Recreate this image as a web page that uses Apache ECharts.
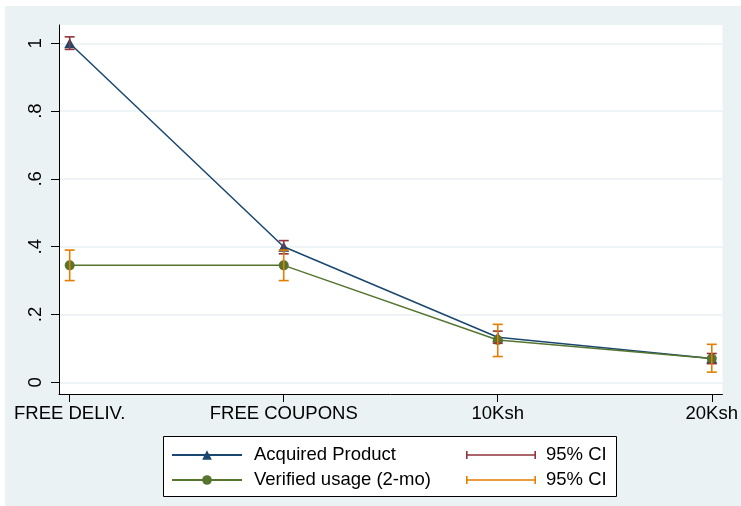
<!DOCTYPE html>
<html>
<head>
<meta charset="utf-8">
<script src="https://cdn.jsdelivr.net/npm/echarts@6/dist/echarts.min.js"></script>
<style>
  html, body { margin: 0; padding: 0; background: #ffffff; }
  #chart { width: 741px; height: 506px; }
</style>
</head>
<body>
<div id="chart"></div>
<script>
// Incentive arms along the horizontal axis
const categories = ['FREE DELIV.', 'FREE COUPONS', '10Ksh', '20Ksh'];

// Share who acquired the product, with 95% confidence bounds
const acquired = [1.0, 0.40, 0.133, 0.07];
const acquiredLow = [0.982, 0.379, 0.115, 0.055];
const acquiredHigh = [1.019, 0.418, 0.151, 0.085];

// Share with verified usage after two months, with 95% confidence bounds
const verified = [0.345, 0.345, 0.125, 0.07];
const verifiedLow = [0.30, 0.30, 0.076, 0.03];
const verifiedHigh = [0.39, 0.39, 0.171, 0.112];

// Vertical axis ticks and their printed labels
const yTicks = [0, 0.2, 0.4, 0.6, 0.8, 1];
const yTickLabels = ['0', '.2', '.4', '.6', '.8', '1'];

const seriesNames = ['Acquired Product', 'Verified usage (2-mo)'];
const ciLabel = '95% CI';

const NAVY = '#1a476f';
const GREEN = '#55752f';
const MAROON = '#90353b';
const ORANGE = '#e37e00';
const BG = '#eaf2f3';
const FONT = 'Liberation Sans, Arial, sans-serif';

const xIdx = categories.map((_, i) => i);
const pairs = (vals) => vals.map((v, i) => [xIdx[i], v]);
const ciData = (lo, hi) => lo.map((l, i) => [xIdx[i], l, hi[i]]);

function capRender(color) {
  return function (params, api) {
    const x = api.value(0);
    const top = api.coord([x, api.value(2)]);
    const bot = api.coord([x, api.value(1)]);
    const half = 5;
    const style = { stroke: color, lineWidth: 1.6, fill: 'none' };
    return {
      type: 'group',
      children: [
        { type: 'line', shape: { x1: top[0], y1: top[1], x2: bot[0], y2: bot[1] }, style },
        { type: 'line', shape: { x1: top[0] - half, y1: top[1], x2: top[0] + half, y2: top[1] }, style },
        { type: 'line', shape: { x1: bot[0] - half, y1: bot[1], x2: bot[0] + half, y2: bot[1] }, style }
      ]
    };
  };
}

// Legend glyph for the confidence-interval entries: a bar with end caps
const capIcon = 'path://M0,0 L1.6,0 L1.6,8 L0,8 Z M0,3.2 L70,3.2 L70,4.8 L0,4.8 Z M68.4,0 L70,0 L70,8 L68.4,8 Z';

const chart = echarts.init(document.getElementById('chart'), null, { renderer: 'canvas' });

chart.setOption({
  backgroundColor: '#ffffff',
  animation: false,
  textStyle: { fontFamily: FONT },
  graphic: [
    { type: 'rect', z: -10, silent: true,
      shape: { x: 5, y: 6, width: 736, height: 500 },
      style: { fill: BG } },
    { type: 'rect', z: 5, silent: true,
      shape: { x: 163.5, y: 436.5, width: 453, height: 60 },
      style: { fill: '#ffffff', stroke: '#000000', lineWidth: 1 } }
  ],
  grid: {
    left: 59, top: 25, width: 666, height: 369,
    show: true, backgroundColor: '#ffffff', borderWidth: 0
  },
  xAxis: {
    type: 'value', min: -0.05, max: 3.05,
    axisLine: { show: true, onZero: false, lineStyle: { color: '#000000', width: 1 } },
    axisTick: { show: true, customValues: xIdx, length: 8, lineStyle: { color: '#000000' } },
    axisLabel: {
      customValues: xIdx, margin: 10, fontSize: 18.5, color: '#000000', fontFamily: FONT,
      formatter: (v) => categories[Math.round(v)]
    },
    splitLine: { show: false }
  },
  yAxis: {
    type: 'value', min: -0.0345, max: 1.054,
    axisLine: { show: true, onZero: false, lineStyle: { color: '#000000', width: 1 } },
    axisTick: { show: true, customValues: yTicks, length: 8, lineStyle: { color: '#000000' } },
    axisLabel: {
      customValues: yTicks, rotate: 90, margin: 14, fontSize: 18.5, color: '#000000', fontFamily: FONT,
      formatter: (v) => yTickLabels[yTicks.findIndex(t => Math.abs(t - v) < 1e-9)]
    },
    splitLine: { show: true, lineStyle: { color: BG, width: 1.5 } }
  },
  legend: [
    {
      orient: 'vertical', left: 171, top: 445, padding: 0, itemGap: 5,
      itemWidth: 70, itemHeight: 12, z: 10,
      selectedMode: false,
      data: seriesNames,
      textStyle: { fontSize: 18.5, color: '#000000', fontFamily: FONT, lineHeight: 20, padding: [0, 0, 0, 7] }
    },
    {
      orient: 'vertical', left: 466, top: 445, padding: 0, itemGap: 5,
      itemWidth: 70, itemHeight: 8, z: 10,
      selectedMode: false,
      data: [
        { name: 'Acquired CI', icon: capIcon },
        { name: 'Verified CI', icon: capIcon }
      ],
      formatter: () => ciLabel,
      textStyle: { fontSize: 18.5, color: '#000000', fontFamily: FONT, lineHeight: 20, padding: [0, 0, 0, 5] }
    }
  ],
  series: [
    {
      name: seriesNames[0], type: 'line', data: pairs(acquired), z: 3,
      symbol: 'triangle', symbolSize: [11, 10], showSymbol: true,
      lineStyle: { color: NAVY, width: 1.5 }, itemStyle: { color: NAVY }
    },
    {
      name: seriesNames[1], type: 'line', data: pairs(verified), z: 3,
      symbol: 'circle', symbolSize: 10, showSymbol: true,
      lineStyle: { color: GREEN, width: 1.5 }, itemStyle: { color: GREEN }
    },
    {
      name: 'Acquired CI', type: 'custom', data: ciData(acquiredLow, acquiredHigh), z: 4,
      itemStyle: { color: MAROON }, renderItem: capRender(MAROON)
    },
    {
      name: 'Verified CI', type: 'custom', data: ciData(verifiedLow, verifiedHigh), z: 4,
      itemStyle: { color: ORANGE }, renderItem: capRender(ORANGE)
    }
  ]
});
</script>
</body>
</html>
